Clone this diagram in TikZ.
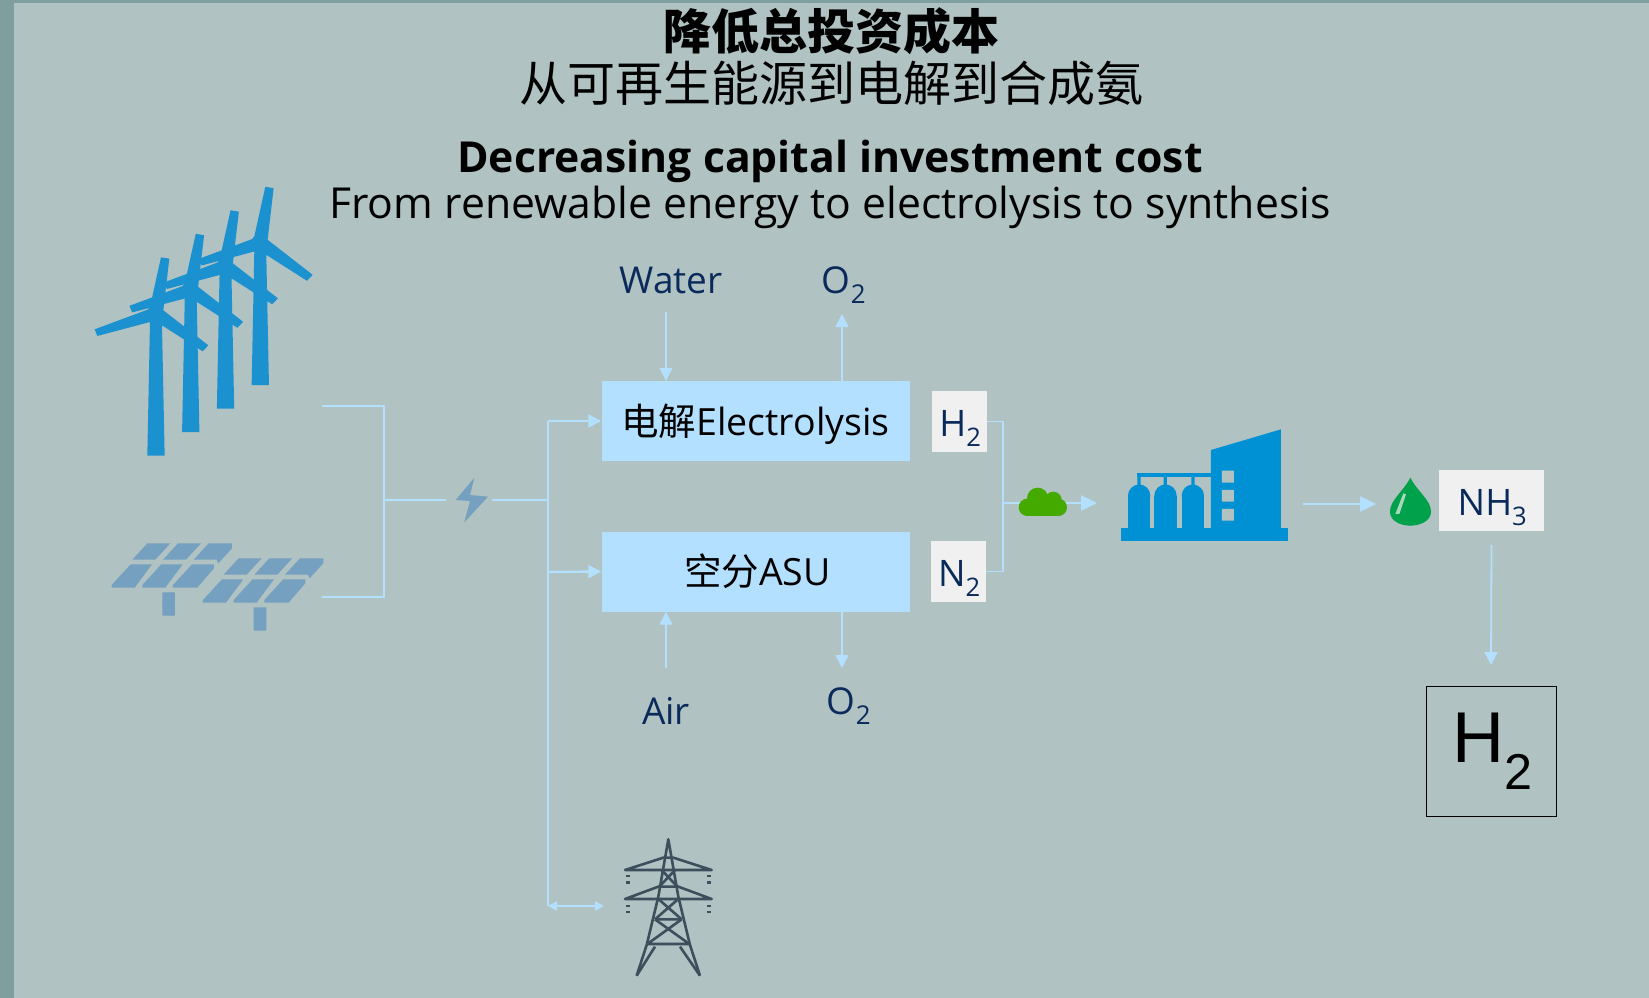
\documentclass[tikz,border=0pt]{standalone}
\usepackage{fontspec}
\usetikzlibrary{arrows.meta}
\setmainfont{Open Sans}
\newfontfamily\cjk{Noto Sans CJK SC}
\newfontfamily\arial{Liberation Sans}
\definecolor{cbg}{HTML}{B0C2C2}
\definecolor{cstrip}{HTML}{7F9E9E}
\definecolor{cwire}{HTML}{B3E0FF}
\definecolor{cnavy}{HTML}{0A2A5C}
\definecolor{ctag}{HTML}{F0F0F0}
\definecolor{cblade}{HTML}{1C91D0}
\definecolor{cpanel}{HTML}{75A0C0}
\definecolor{cplant}{HTML}{0091D5}
\definecolor{ccloud}{HTML}{44AA00}
\definecolor{cdrop}{HTML}{00A14B}
\definecolor{cmast}{HTML}{3D4F5C}
\tikzset{
  wire/.style={cwire,line width=1.1pt},
  bus/.style={cwire,line width=2.4pt},
  procbox/.style={fill=cwire,minimum width=308pt,minimum height=80pt,inner sep=0pt,text height=33pt,text depth=5pt,font=\fontsize{37.5}{37.5}\selectfont},
  tagbox/.style={fill=ctag,text=cnavy,inner sep=0pt,text height=34pt,text depth=4pt,font=\fontsize{36.5}{36.5}\selectfont},
  gaslabel/.style={text=cnavy,inner sep=0pt,font=\fontsize{37}{37}\selectfont},
}
\begin{document}
\begin{tikzpicture}[x=1pt,y=-1pt,>={Stealth[inset=0pt,length=13pt,width=13pt]}]
  \useasboundingbox (0,0) rectangle (1649,998);
  \fill[cbg] (0,0) rectangle (1649,998);
  \fill[cstrip] (0,0) rectangle (14,998);
  \fill[cstrip] (0,0) rectangle (1649,3);

  \node (titlecn) at (831,31) {\cjk\bfseries\fontsize{48}{48}\selectfont 降低总投资成本};
  \node (subcn) at (831,83) {\cjk\fontsize{48}{48}\selectfont 从可再生能源到电解到合成氨};
  \node (titleen) at (830,161) {\bfseries\fontsize{42.7}{42.7}\selectfont Decreasing capital investment cost};
  \node (suben) at (830,207) {\fontsize{42.7}{42.7}\selectfont From renewable energy to electrolysis to synthesis};

  \foreach \k in {0,1,2,3}
    \fill[cblade,shift={(80+\k*34.77,170-\k*23.5)},scale=0.3333]
      (243,262) -- (268,266) -- (250,421) -- (385,526) -- (368,544) -- (246,466)
      -- (254,857) -- (202,857) -- (210,456) -- (52,498) -- (44,478) -- (203,419) -- (210,411) -- cycle;

  \foreach \k in {0,1}
    \fill[cpanel,shift={(90+\k*91.3,500+\k*15)},scale=0.3333]
      (127,179) -- (172,130) -- (241,130) -- (196,179) -- cycle
      (219,179) -- (264,130) -- (333,130) -- (288,179) -- cycle
      (311,179) -- (356,130) -- (426,130) -- (426,145) -- (385,190) -- (380,179) -- cycle
      (65,255) -- (122,193) -- (186,193) -- (134,263) -- (65,263) -- cycle
      (157,255) -- (214,193) -- (278,193) -- (226,263) -- (157,263) -- cycle
      (249,255) -- (306,193) -- (372,193) -- (372,205) -- (322,263) -- (249,263) -- cycle
      (217,277) rectangle (255,347);

  \fill[cpanel,shift={(420,450)},scale=0.3333]
    (163,83) -- (107,150) -- (150,153) -- (133,217) -- (204,140) -- (150,135) -- cycle;

  \coordinate (windend) at (322,406);
  \coordinate (solarend) at (322,597);
  \coordinate (collect) at (384,500);
  \coordinate (boltin) at (446,500);
  \coordinate (boltout) at (492,500);
  \coordinate (busmid) at (548,500);
  \coordinate (bustop) at (548,421);
  \coordinate (busasu) at (548,572);
  \coordinate (busend) at (548,906);
  \coordinate (pylon) at (604,906);
  \draw[wire] (windend) -| (collect) |- (solarend);
  \draw[wire] (collect) -- (boltin);
  \draw[bus] (boltout) -- (busmid);

  \node[procbox] (elec) at (755.5,421) {\cjk 电解\rmfamily Electrolysis};
  \node[procbox] (asu) at (755.5,571.5) {\hspace*{4pt}\cjk 空分\rmfamily ASU};
  \node[tagbox,minimum width=55pt,minimum height=61pt] (htag) at (959.5,421.5) {\hspace*{2pt}H\textsubscript{2}};
  \node[tagbox,minimum width=55pt,minimum height=61pt] (ntag) at (958.5,571.5) {\hspace*{2pt}N\textsubscript{2}};
  \node[tagbox,minimum width=105pt,minimum height=61pt] (nhtag) at (1491.5,500.5) {\hspace*{2pt}NH\textsubscript{3}};
  \node[draw=black,line width=0.9pt,minimum width=130pt,minimum height=130pt,inner sep=0pt,font=\arial\fontsize{72}{72}\selectfont] (hbox) at (1491.5,751) {\hspace*{3pt}\raisebox{-3pt}{H\textsubscript{2}}};

  \node[gaslabel] (water) at (671,280) {Water};
  \node[gaslabel] (otop) at (844,285) {O\textsubscript{2}};
  \node[gaslabel] (air) at (666,711) {Air};
  \node[gaslabel] (obot) at (849,706) {O\textsubscript{2}};

  \coordinate (waterend) at (666,312);
  \coordinate (otopend) at (842,314);
  \coordinate (airend) at (666,668);
  \coordinate (obotend) at (842,668);
  \draw[bus] (bustop) -- (busend);
  \draw[bus,->] (bustop) -- (elec.west);
  \draw[bus,->] (busasu) -- (asu.west);
  \draw[bus,<->,>={Stealth[inset=0pt,length=9pt,width=9pt]}] (busend) -- (pylon);
  \draw[wire,line width=1.6pt,->] (waterend) -- (waterend |- elec.north);
  \draw[wire,line width=1.6pt,->] (otopend |- elec.north) -- (otopend);
  \draw[wire,line width=1.6pt,->] (airend) -- (airend |- asu.south);
  \draw[wire,line width=1.6pt,->] (obotend |- asu.south) -- (obotend);

  \coordinate (hjoin) at (1003,421.5);
  \coordinate (njoin) at (1003,571.5);
  \coordinate (midjoin) at (1003,503);
  \coordinate (plantin) at (1097,503);
  \coordinate (plantout) at (1303,504);
  \coordinate (dropin) at (1376,504);
  \coordinate (hboxin) at (1491,665);
  \draw[wire] (htag.east) -- (hjoin) -- (midjoin);
  \draw[bus,line width=1.8pt] (midjoin) -- (njoin) -- (ntag.east);
  \draw[bus,->,>={Stealth[inset=0pt,length=16pt,width=15pt]}] (midjoin) -- (plantin);
  \draw[bus,->,>={Stealth[inset=0pt,length=16pt,width=15pt]}] (plantout) -- (dropin);
  \draw[bus,line width=1.8pt,->] (nhtag.south |- 0,545) -- (hboxin);

  \begin{scope}[shift={(1000,410)},scale=0.3333,ccloud]
    \fill (82,292) circle (26);
    \fill (175,292) circle (26);
    \fill (113,265) circle (32);
    \fill (160,270) circle (25);
    \fill (82,280) rectangle (175,318);
  \end{scope}

  \begin{scope}[shift={(1000,410)},scale=0.3333,cplant]
    \fill (363,354) rectangle (864,393);
    \fill (633,120) -- (843,58) -- (843,354) -- (633,354) -- cycle;
    \fill[cbg] (666,182) rectangle (702,218) (666,240) rectangle (702,275) (666,297) rectangle (702,332);
    \fill (412,190) rectangle (633,202);
    \fill (412,190) rectangle (422,235) (491,190) rectangle (501,235) (574,190) rectangle (584,235);
    \foreach \t in {384,463,545} {
      \fill (\t,257) rectangle (\t+67,354);
      \fill (\t+33.5,257) circle (33.5);
    }
  \end{scope}

  \begin{scope}[shift={(1370,460)},scale=0.3333]
    \fill[cdrop] (121,53) .. controls (100,95) and (60,120) .. (60,155) .. controls (60,182) and (90,197) .. (121,197)
      .. controls (152,197) and (183,182) .. (183,155) .. controls (183,120) and (142,95) .. (121,53) -- cycle;
    \fill[ctag!70!cdrop] (100,100) -- (108,103) -- (88,162) -- (76,162) -- cycle;
  \end{scope}

  \begin{scope}[shift={(600,820)},scale=0.3333,cmast,line width=2.6pt,line join=round]
    \draw (110,467) -- (140,375) -- (175,230) -- (205,58) -- (235,230) -- (270,375) -- (300,467);
    \draw (75,150) -- (335,150) -- (220,113) -- (190,113) -- cycle;
    \draw (75,237) -- (335,237) -- (235,200) -- (175,200) -- cycle;
    \draw (185,150) -- (232,200) (225,150) -- (178,200);
    \draw (175,237) -- (245,298) (235,237) -- (165,298) (165,298) -- (245,298);
    \draw (165,298) -- (268,372) (245,298) -- (142,372) (140,372) -- (270,372);
    \draw (110,467) -- (165,380) (300,467) -- (240,380);
    \foreach \p in {79,321} \foreach \q in {165,184,254,273}
      \fill (\p,\q) rectangle (\p+12,\q+7);
  \end{scope}
\end{tikzpicture}
\end{document}
